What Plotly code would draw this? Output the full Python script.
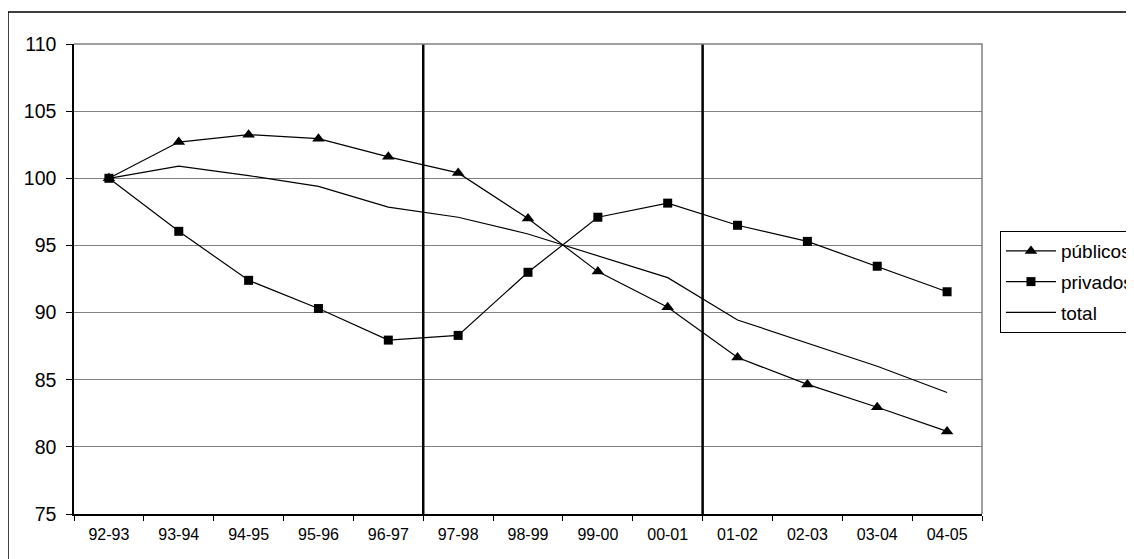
import plotly.graph_objects as go

# school years (x categories)
cursos = ['92-93', '93-94', '94-95', '95-96', '96-97', '97-98', '98-99',
          '99-00', '00-01', '01-02', '02-03', '03-04', '04-05']

# index numbers, 92-93 = 100
publicos = [100, 102.7, 103.25, 102.95, 101.6, 100.4, 97.0,
            93.05, 90.4, 86.65, 84.65, 82.95, 81.15]
privados = [100, 96.05, 92.4, 90.3, 87.95, 88.3, 93.0,
            97.1, 98.15, 96.5, 95.3, 93.45, 91.55]
total = [100, 100.9, 100.2, 99.4, 97.85, 97.1, 95.85,
         94.2, 92.6, 89.45, 87.7, 86.0, 84.05]

# breaks between periods (boundaries between categories)
cortes = [4.5, 8.5]

FONT = 'Arial, Liberation Sans, sans-serif'

fig = go.Figure()
fig.add_trace(go.Scatter(x=cursos, y=publicos, name='públicos', mode='lines+markers',
                         legendgroup='pub',
                         line=dict(color='black', width=1.2),
                         marker=dict(symbol='triangle-up', size=11, color='black')))
fig.add_trace(go.Scatter(x=cursos, y=privados, name='privados', mode='lines+markers',
                         legendgroup='priv',
                         line=dict(color='black', width=1.2),
                         marker=dict(symbol='square', size=9, color='black')))
fig.add_trace(go.Scatter(x=cursos, y=total, name='total', mode='lines',
                         legendgroup='tot',
                         line=dict(color='black', width=1.2)))

shapes = []
for c in cortes:
    shapes.append(dict(type='line', xref='x', yref='paper', x0=c, x1=c, y0=0, y1=1,
                       line=dict(color='black', width=2.5)))
# grey frame on top and right of plot area
shapes.append(dict(type='path', xref='paper', yref='paper', path='M 0,1 L 1,1 L 1,0',
                   line=dict(color='#808080', width=1.5)))
# outer chart border
shapes.append(dict(type='rect', xref='paper', yref='paper', x0=-0.0727, x1=1.2, y0=-0.2, y1=1.068,
                   line=dict(color='black', width=1.5), layer='below'))

# page body has an 8px margin, so the figure is 8px smaller than the window
fig.update_layout(
    width=1126, height=551,
    margin=dict(l=66, r=152, t=36, b=45, autoexpand=False),
    paper_bgcolor='white', plot_bgcolor='white',
    font=dict(family=FONT, color='black'),
    showlegend=True,
    legend=dict(x=1.0198, y=0.602, xanchor='left', yanchor='top',
                bordercolor='black', borderwidth=1, bgcolor='white',
                font=dict(size=19, family=FONT), tracegroupgap=3, itemwidth=50),
    shapes=shapes,
)
fig.update_xaxes(type='category', range=[-0.5, 12.5], tickson='boundaries',
                 ticks='outside', ticklen=5, tickcolor='black', ticklabelstandoff=5,
                 showline=True, linecolor='black', linewidth=1.5,
                 showgrid=False, tickfont=dict(size=16, family=FONT))
fig.update_yaxes(range=[75, 110], dtick=5, ticks='outside', ticklen=6, tickcolor='black',
                 ticklabelstandoff=6,
                 showline=True, linecolor='black', linewidth=1.5,
                 showgrid=True, gridcolor='#808080', gridwidth=1.2,
                 zeroline=False, tickfont=dict(size=19.5, family=FONT))

fig.write_html("out.html")
